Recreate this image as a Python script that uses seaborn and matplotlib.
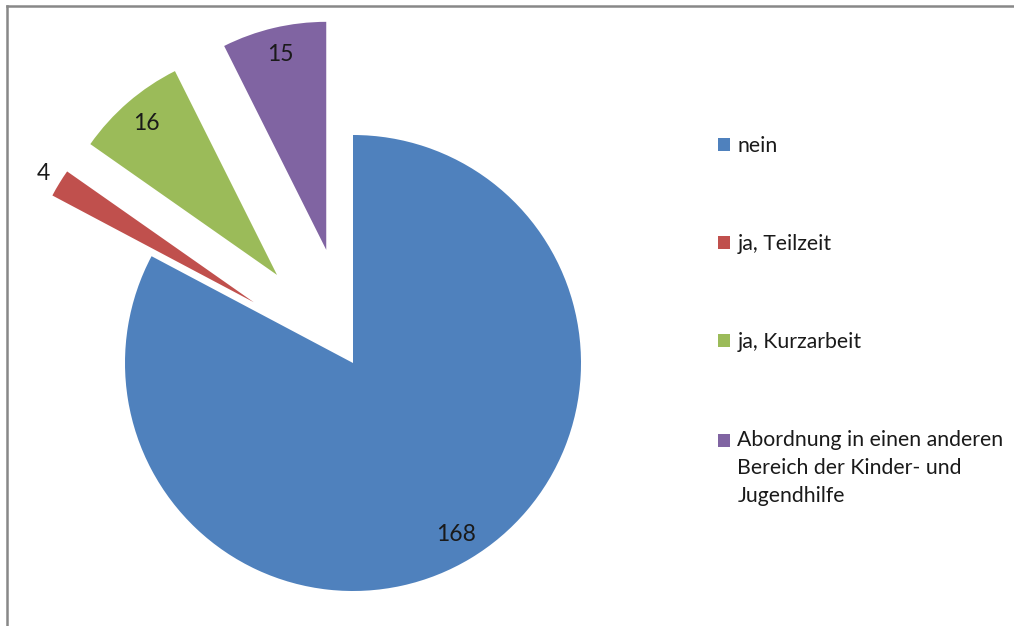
import numpy as np
import matplotlib.pyplot as plt
import seaborn as sns

# data
categories = ['nein', 'ja, Teilzeit', 'ja, Kurzarbeit',
              'Abordnung in einen anderen\nBereich der Kinder- und\nJugendhilfe']
counts = [168, 4, 16, 15]
colors = ['#4F81BD', '#C0504D', '#9BBB59', '#8064A2']

sns.set_style('white')
plt.rcParams['font.family'] = ['Lato', 'DejaVu Sans']

W, H = 1014, 626
fig = plt.figure(figsize=(W / 100, H / 100), dpi=100)
# left/top frame like the Excel chart area
ax = fig.add_axes([7 / W, 0, 1 - 7 / W, 1 - 6 / H])

R = 228
explode = [0, 0.51 * R, 0.51 * R, 0.51 * R]  # pie explode is in data units
wedges, _ = ax.pie(counts, colors=colors, startangle=90, counterclock=False,
                   explode=explode, radius=R, center=(353, H - 363),
                   frame=True, wedgeprops=dict(linewidth=0))
ax.set_xlim(7, W)
ax.set_ylim(0, H - 6)
ax.set_aspect('equal')
ax.set_xticks([])
ax.set_yticks([])
sns.despine(ax=ax, top=False, right=True, left=False, bottom=True)
for s in ['left', 'top']:
    ax.spines[s].set_color('#888888')
    ax.spines[s].set_linewidth(1.8)

# value labels
label_dist = [0.88, 1.08, 0.88, 0.88]
for w, n, d in zip(wedges, counts, label_dist):
    ang = np.deg2rad((w.theta1 + w.theta2) / 2)
    cx, cy = w.center
    ax.text(cx + d * w.r * np.cos(ang), cy + d * w.r * np.sin(ang), str(n),
            ha='center', va='center', fontsize=16.5, color='#1a1a1a')

fs = 15.3
leg = ax.legend(wedges, categories, loc='upper left',
                bbox_to_anchor=(699, H - 117), bbox_transform=ax.transData,
                frameon=False, fontsize=fs, handlelength=0.55, handleheight=0.55,
                handletextpad=0.35, labelspacing=3.67)
for t in leg.get_texts():
    t.set_color('#1a1a1a')
    t.set_linespacing(1.5)
# square of the wrapped entry sits on its first line
h = leg.legend_handles[3]
h.set_y(h.get_y() + 28 * 0.72)

fig.savefig('out.png', dpi=100)
